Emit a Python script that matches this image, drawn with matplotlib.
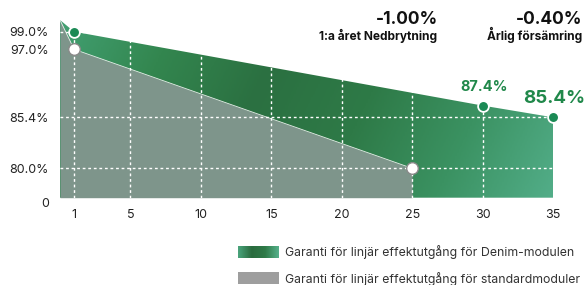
import numpy as np
import matplotlib
matplotlib.use('Agg')
import matplotlib.pyplot as plt
from matplotlib.colors import LinearSegmentedColormap

plt.rcParams['font.family'] = ['Inter', 'DejaVu Sans']

# data
denim_years = [0, 1, 30, 35]
denim_vals = [100, 99.0, 87.4, 85.4]
std_years = [0, 1, 25]
std_vals = [100, 97.0, 80.0]
denim_marks_x = [1, 30, 35]
denim_marks_y = [99.0, 87.4, 85.4]
std_marks_x = [1, 25]
std_marks_y = [97.0, 80.0]
xticks = [1, 5, 10, 15, 20, 25, 30, 35]
yticks = [0, 80.0, 85.4, 97.0, 99.0]
ytick_labels = ['0', '80.0%', '85.4%', '97.0%', '99.0%']
legend_labels = ['Garanti för linjär effektutgång för Denim-modulen',
                 'Garanti för linjär effektutgång för standardmoduler']

# piecewise y scale (the original chart is not linear in y)
knot_v = np.array([0, 80.0, 85.4, 97.0, 99.0, 100.0])
knot_h = np.array([0, 29.4, 80.4, 148.4, 166.0, 177.7])

def fwd(v):
    return np.interp(v, knot_v, knot_h)

def inv(h):
    return np.interp(h, knot_h, knot_v)

W, H = 584, 285
fig = plt.figure(figsize=(W / 100, H / 100), dpi=100)
ax = fig.add_axes([60 / W, (H - 197.7) / H, 493 / W, 177.7 / H])
ax.set_yscale('function', functions=(fwd, inv))
ax.set_xlim(0, 35)
ax.set_ylim(0, 100)

green_cmap = LinearSegmentedColormap.from_list(
    'g', ['#42a072', '#33864f', '#2b7041', '#2e7a47', '#3b9262', '#52ad88'])

# green area, gradient image clipped to the polygon
poly_g = ax.fill_between(denim_years, denim_vals, 0, color='none', lw=0)
gx, gy = np.meshgrid(np.linspace(0, 1, 300), np.linspace(0, 1, 100))
grad = np.clip(0.85 * gx + 0.15 * (1 - gy), 0, 1)
img = ax.imshow(grad, cmap=green_cmap, extent=[0, 1, 0, 1], transform=ax.transAxes,
                aspect='auto', origin='lower', zorder=1)
img.set_clip_path(poly_g.get_paths()[0], transform=ax.transData)

# standard area
ax.fill_between(std_years, std_vals, 0, color='#7e958b', lw=0, zorder=2)
ax.plot(std_years, std_vals, color='#e8eeea', lw=0.6, zorder=2.5)

# grid
for x in xticks[:-1]:
    ax.axvline(x, color='white', lw=1, ls=(0, (2, 2)), zorder=3)
for y in [80.0, 85.4, 99.0]:
    ax.axhline(y, color='white', lw=1, ls=(0, (2, 2)), zorder=3)

ax.scatter(denim_marks_x, denim_marks_y, s=60, color='#1b8a55', edgecolors='white',
           linewidths=1.3, zorder=5, clip_on=False)
ax.scatter(std_marks_x, std_marks_y, s=70, color='white', edgecolors='#8a8a8a',
           linewidths=1, zorder=5, clip_on=False)

ax.annotate('87.4%', (30, 87.4), xytext=(1, 8), textcoords='offset points',
            ha='center', va='bottom', fontsize=10.5, fontweight='bold', color='#20884a')
ax.annotate('85.4%', (35, 85.4), xytext=(1, 10), textcoords='offset points',
            ha='center', va='baseline', fontsize=13.5, fontweight='bold', color='#20884a')

ax.set_xticks(xticks)
ax.set_xticklabels([str(x) for x in xticks])
ax.set_yticks(yticks)
ax.set_yticklabels(ytick_labels)
ax.tick_params(length=0, labelsize=9, labelcolor='#222222')
ax.tick_params(axis='x', pad=8)
ax.tick_params(axis='y', pad=8)
ax.get_yticklabels()[0].set_verticalalignment('top')
for s in ax.spines.values():
    s.set_visible(False)

# header numbers
fig.text(438 / W, 1 - 24 / H, '-1.00%', ha='right', va='baseline', fontsize=12.5,
         fontweight='bold', color='#111111')
fig.text(437 / W, 1 - 40 / H, '1:a året Nedbrytning', ha='right', va='baseline',
         fontsize=8.6, fontweight='bold', color='#111111')
fig.text(582 / W, 1 - 24 / H, '-0.40%', ha='right', va='baseline', fontsize=12.5,
         fontweight='bold', color='#111111')
fig.text(582 / W, 1 - 40 / H, 'Årlig försämring', ha='right', va='baseline',
         fontsize=8.6, fontweight='bold', color='#111111')

# legend swatches
sw1 = fig.add_axes([238 / W, (H - 258) / H, 41 / W, 12.5 / H])
sw_cmap = LinearSegmentedColormap.from_list('s', ['#4aa47c', '#2a6b3e', '#2f7a48', '#55b08a'])
sw1.imshow(np.linspace(0, 1, 100)[None, :], cmap=sw_cmap, aspect='auto')
sw1.axis('off')
sw2 = fig.add_axes([238 / W, (H - 284) / H, 41 / W, 12.5 / H])
sw2.set_facecolor('#9e9e9e')
sw2.set_xticks([])
sw2.set_yticks([])
for s in sw2.spines.values():
    s.set_visible(False)
fig.text(285 / W, 1 - 252 / H, legend_labels[0], ha='left', va='center', fontsize=8.85,
         color='#333333')
fig.text(285 / W, 1 - 279 / H, legend_labels[1], ha='left', va='center', fontsize=8.85,
         color='#333333')

fig.savefig('out.png', dpi=100)
